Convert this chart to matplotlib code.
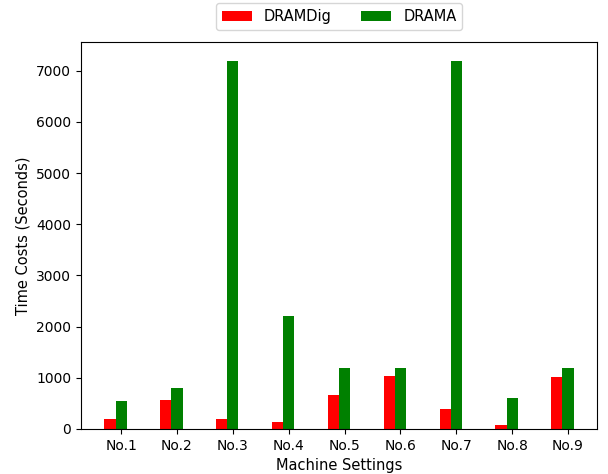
import numpy as np
import matplotlib.pyplot as plt

# Time cost of each tool per machine setting (seconds)
settings = ["No.1", "No.2", "No.3", "No.4", "No.5", "No.6", "No.7", "No.8", "No.9"]
dramdig = [195, 565, 195, 140, 660, 1035, 390, 78, 1015]
drama = [550, 800, 7200, 2200, 1200, 1200, 7200, 600, 1200]

x = np.arange(len(settings))
width = 0.2

fig = plt.figure(figsize=(6.08, 4.74), dpi=100)
ax = fig.add_axes([0.133, 0.095, 0.849, 0.816])

ax.bar(x, dramdig, width, color="red", label="DRAMDig")
ax.bar(x + width, drama, width, color="green", label="DRAMA")

ax.set_xticks(x + width)
ax.set_xticklabels(settings)
ax.set_xlabel("Machine Settings", fontsize=10.5)
ax.set_ylabel("Time Costs (Seconds)", fontsize=10.5)

ax.legend(loc="upper center", bbox_to_anchor=(0.5, 1.12), ncol=2,
          fontsize=10.5, handlelength=2.1)

plt.savefig("out.png", dpi=100)
